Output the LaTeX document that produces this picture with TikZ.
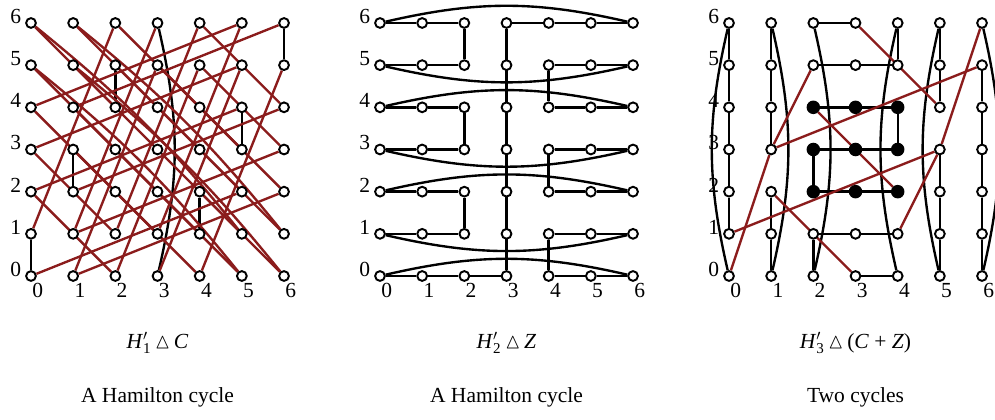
\documentclass[tikz,border=0pt]{standalone}
\usepackage{amsmath,amssymb}
\usepackage{fontspec}
\setmainfont{Liberation Serif}
\usetikzlibrary{backgrounds}
\definecolor{cycred}{HTML}{8B1C1C}
\tikzset{
  vtx/.style={circle, draw, line width=1.3pt, fill=white, inner sep=0pt, minimum size=6.6pt},
  fullvtx/.style={circle, draw, line width=1.3pt, fill=black, inner sep=0pt, minimum size=7.8pt},
  blackedge/.style={line width=1.6pt, black},
  rededge/.style={line width=1.6pt, cycred},
  numlbl/.style={font=\fontsize{14.5}{16}\selectfont, inner sep=0pt},
  caption/.style={font=\fontsize{14.5}{17}\selectfont, inner sep=0pt}
}
\newcommand{\hsub}[1]{\textit{H}$'_{\text{#1}}$}

\begin{document}
\begin{tikzpicture}[x=1cm,y=1cm]
  \useasboundingbox (-0.735,-3.391) rectangle (22.86,6.545);
  % the three 7x7 grids
  \foreach \x in {0,...,6}{
    \foreach \y in {0,...,6}{
      \node[vtx] (a\x\y) at (\x,\y) {};
      \node[vtx] (b\x\y) at (8.276+\x,\y) {};
    }
  }
  \foreach \x in {0,1,5,6}{
    \foreach \y in {0,...,6}{
      \node[vtx] (c\x\y) at (16.552+\x,\y) {};
    }
  }
  \foreach \x in {2,3,4}{
    \foreach \y in {0,1,5,6}{
      \node[vtx] (c\x\y) at (16.552+\x,\y) {};
    }
    \foreach \y in {2,3,4}{
      \node[fullvtx] (c\x\y) at (16.552+\x,\y) {};
    }
  }
  \foreach \off in {0,8.276,16.552}{
    \foreach \i in {0,...,6}{
      \node[numlbl] at (\off-0.36,\i+0.16) {\i};
      \node[numlbl] at (\off+\i+0.16,-0.35) {\i};
    }
  }

  \node[caption] at (3,-1.59) {\hsub{1}\,$\vartriangle$\,\textit{C}};
  \node[caption] at (11.276,-1.59) {\hsub{2}\,$\vartriangle$\,\textit{Z}};
  \node[caption] at (19.552,-1.59) {\hsub{3}\,$\vartriangle$\,(\textit{C} + \textit{Z})};
  \node[caption] at (3,-2.87) {A Hamilton cycle};
  \node[caption] at (11.276,-2.87) {A Hamilton cycle};
  \node[caption] at (19.552,-2.87) {Two cycles};

  \begin{scope}[on background layer]
    % left grid
    \foreach \p/\q in {00/01,12/13,24/25,41/42,53/54,65/66}
      \draw[blackedge] (a\p) -- (a\q);
    \draw[blackedge] (a36) to[bend left=13] (a30);
    \foreach \p/\q in {01/26,02/20,03/21,04/22,05/23,06/24,
                       10/35,11/36,13/31,14/32,15/33,16/34,
                       20/45,21/46,22/40,23/41,25/43,26/44,
                       30/55,31/56,32/50,33/51,34/52,35/53,
                       40/65,42/60,43/61,44/62,45/63,46/64,
                       52/00,54/02,55/03,56/04,
                       62/10,63/11,64/12,66/14}
      \draw[rededge] (a\p) -- (a\q);
    \foreach \p/\q in {50/05,51/06,60/15,61/16}
      \draw[rededge] (a\p) to[bend right=6] (a\q);
    % middle grid
    \foreach \p/\q in {06/16,16/26,26/25,36/46,46/56,56/66,
                       05/15,15/25,45/55,55/65,45/44,
                       04/14,14/24,24/23,44/54,54/64,
                       03/13,13/23,43/53,53/63,43/42,
                       02/12,12/22,22/21,42/52,52/62,
                       01/11,11/21,41/51,51/61,41/40,
                       00/10,10/20,20/30,40/50,50/60,
                       36/30}
      \draw[blackedge] (b\p) -- (b\q);
    \foreach \r in {6,4,2,0}
      \draw[blackedge] (b0\r) to[bend left=13] (b6\r);
    \foreach \r in {5,3,1}
      \draw[blackedge] (b0\r) to[bend right=13] (b6\r);
    % right grid
    \foreach \p/\q in {06/05,05/04,04/03,03/02,02/01,
                       16/15,15/14,14/13,12/11,11/10,
                       26/36,25/35,35/45,24/34,34/44,23/33,33/43,
                       22/32,32/42,21/31,31/41,30/40,
                       46/45,44/43,23/22,21/20,
                       56/55,55/54,53/52,52/51,51/50,
                       65/64,64/63,63/62,62/61,61/60}
      \draw[blackedge] (c\p) -- (c\q);
    \foreach \x in {0,4,5}
      \draw[blackedge] (c\x6) to[bend right=13] (c\x0);
    \foreach \x in {1,2,6}
      \draw[blackedge] (c\x6) to[bend left=13] (c\x0);
    \draw[rededge] (c00) -- (c13) -- (c25);
    \draw[rededge] (c41) -- (c53) -- (c66);
    \foreach \p/\q in {01/53,13/65,12/30,24/42,36/54}
      \draw[rededge] (c\p) -- (c\q);
  \end{scope}
\end{tikzpicture}
\end{document}
